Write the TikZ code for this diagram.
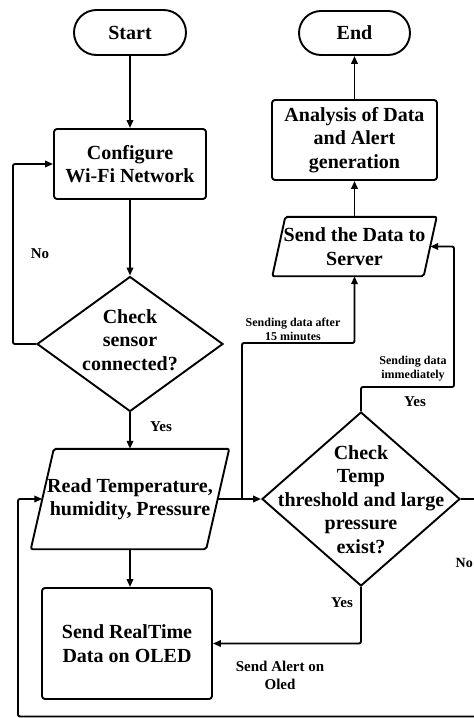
\documentclass[tikz,border=0pt]{standalone}
\usepackage{fontspec}
\setmainfont{Liberation Serif}
\usetikzlibrary{shapes.geometric,shapes.misc,arrows.meta,calc}
\tikzset{
  ln/.style={line width=1.9pt},
  arr/.style={line width=1.9pt,-{Triangle[length=8pt,width=6.5pt]}},
  boxfont/.style={font=\fontsize{20}{23.5}\selectfont\bfseries},
  term/.style={rounded rectangle, draw, line width=1.9pt, inner sep=0pt, boxfont},
  proc/.style={rectangle, rounded corners=3pt, draw, line width=1.9pt, inner sep=0pt, align=center, boxfont},
  iobox/.style={rectangle, draw=none, inner sep=0pt, align=center, boxfont},
  dec/.style={diamond, draw, line width=1.9pt, inner sep=0pt},
  dectext/.style={align=center, inner sep=0pt, boxfont},
  lbl/.style={align=center, inner sep=0pt, font=\fontsize{15}{18}\selectfont\bfseries},
  small/.style={align=center, inner sep=0pt, font=\fontsize{12}{14}\selectfont\bfseries}
}
\begin{document}
\begin{tikzpicture}[x=1pt,y=-1pt]
\useasboundingbox (0,0) rectangle (474,718);
\clip (0,0) rectangle (474,718);
% nodes
\node[term, minimum width=112pt, minimum height=45pt] (start) at (130,32.5) {Start};
\node[proc, minimum width=152pt, minimum height=70pt] (config) at (130,164) {Configure\\Wi-Fi Network};
\node[dec, minimum width=186pt, minimum height=135pt] (d1) at (130,344) {};
\node[dectext] (d1t) at (130,340) {Check\\sensor\\connected?};
\node[iobox, minimum width=175pt, minimum height=100pt] (read) at (130,499) {Read Temperature,\\humidity, Pressure};
\draw[ln, rounded corners=2pt] ($(read.north west)+(11.5,0)$) -- ($(read.north east)+(11.5,0)$) -- ($(read.south east)+(-11.5,0)$) -- ($(read.south west)+(-11.5,0)$) -- cycle;
\node[proc, minimum width=170pt, minimum height=111pt] (sendrt) at (127,643.5) {Send RealTime\\Data on OLED};
\node[dec, minimum width=198pt, minimum height=174pt] (d2) at (361,499) {};
\node[dectext] (d2t) at (361,499.5) {Check\\Temp\\threshold and large\\pressure\\exist?};
\node[iobox, minimum width=151pt, minimum height=59pt] (server) at (354.5,246.5) {Send the Data to\\Server};
\draw[ln, rounded corners=2pt] ($(server.north west)+(6.5,0)$) -- ($(server.north east)+(6.5,0)$) -- ($(server.south east)+(-6.5,0)$) -- ($(server.south west)+(-6.5,0)$) -- cycle;
\node[proc, minimum width=165pt, minimum height=80pt] (analysis) at (354.5,140) {Analysis of Data\\and Alert\\generation};
\node[term, minimum width=111pt, minimum height=44pt] (end) at (354.5,33) {End};
% coordinates
\coordinate (k0) at (13,344);
\coordinate (br) at (242,499);
\coordinate (k1) at (242,343);
\coordinate (k2) at (454,387);
\coordinate (k3) at (490,499);
\coordinate (k4) at (490,716.5);
\coordinate (k5) at (18,716.5);
% connectors
\draw[arr] (start) -- (config);
\draw[arr] (config) -- (d1);
\draw[arr, rounded corners=2pt] (d1.west) -- (k0) |- (config.west);
\draw[arr] (d1.south) -- (read.north);
\draw[arr] (read.south) -- (read.south |- sendrt.north);
\draw[arr] (read.east) -- (d2.west);
\draw[arr, rounded corners=2pt] (br) -- (k1) -| (server.south);
\draw[arr, rounded corners=2pt] (d2.north) |- (k2) |- (server.east);
\draw[arr] (server.north) -- (analysis.south);
\draw[arr] (analysis.north) -- (end.south);
\draw[arr, rounded corners=2pt] (d2.south) |- (sendrt.east);
\draw[arr, rounded corners=2pt] (d2.east) -- (k3) -- (k4) -- (k5) |- (read.west);
% labels
\node[lbl] (lno1) at (40,254) {No};
\node[lbl] (lyes1) at (161,427) {Yes};
\node[small] (lafter) at (293,329) {Sending data after\\15 minutes};
\node[small] (limm) at (413,369) {Sending data\\immediately};
\node[lbl] (lyes2) at (415,402) {Yes};
\node[lbl] (lyes3) at (342,603) {Yes};
\node[lbl] (lalert) at (280,675) {Send Alert on\\Oled};
\node[lbl, anchor=east, font=\fontsize{14}{17}\selectfont\bfseries] (lno2) at (473,563) {No};
\end{tikzpicture}
\end{document}
